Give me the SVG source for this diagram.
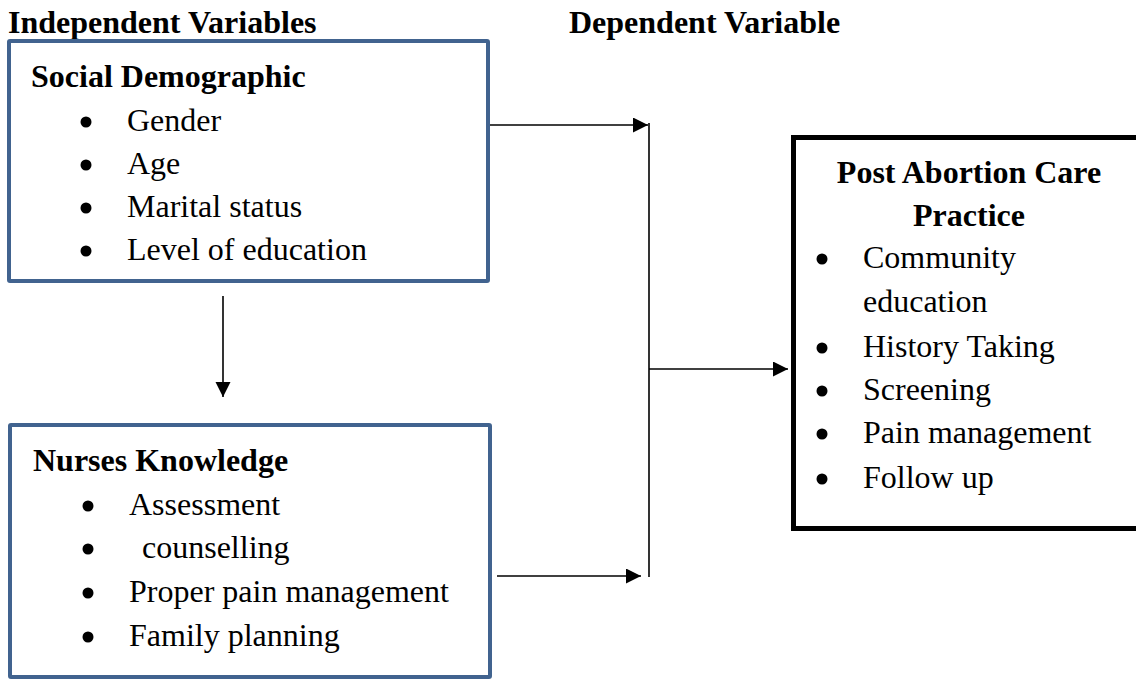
<svg xmlns="http://www.w3.org/2000/svg" width="1136" height="679" viewBox="0 0 1136 679">
<style>
text{font-family:"Liberation Serif","Times New Roman",serif;font-size:32px;fill:#000}
.b{font-weight:bold}
.blue{fill:#fff;stroke:#41638F;stroke-width:4}
.blk{fill:#fff;stroke:#000;stroke-width:5}
.ln{stroke:#000;stroke-width:1.6;fill:none}
.dot{fill:#000}
</style>
<defs>
<marker id="ah" markerUnits="userSpaceOnUse" markerWidth="16" markerHeight="16" refX="15" refY="7.5" orient="auto">
<path d="M0,0 L15,7.5 L0,15 z" fill="#000"/>
</marker>
</defs>
<rect width="1136" height="679" fill="#fff"/>
<g id="headers">
<text class="b" x="8" y="33">Independent Variables</text>
<text class="b" x="569" y="33">Dependent Variable</text>
</g>
<g id="social-demographic">
<rect class="blue" x="9" y="41" width="479" height="240" rx="1"/>
<text class="b" x="31" y="87">Social Demographic</text>
<circle class="dot" cx="86" cy="122" r="5.5"/><text x="127" y="131">Gender</text>
<circle class="dot" cx="86" cy="165" r="5.5"/><text x="127" y="174">Age</text>
<circle class="dot" cx="86" cy="208" r="5.5"/><text x="127" y="217">Marital status</text>
<circle class="dot" cx="86" cy="251" r="5.5"/><text x="127" y="260">Level of education</text>
</g>
<g id="nurses-knowledge">
<rect class="blue" x="10" y="425" width="480" height="252" rx="1"/>
<text class="b" x="33" y="471">Nurses Knowledge</text>
<circle class="dot" cx="88" cy="506" r="5.5"/><text x="129" y="515">Assessment</text>
<circle class="dot" cx="88" cy="549" r="5.5"/><text x="142" y="558">counselling</text>
<circle class="dot" cx="88" cy="593" r="5.5"/><text x="129" y="602">Proper pain management</text>
<circle class="dot" cx="88" cy="637" r="5.5"/><text x="129" y="646">Family planning</text>
</g>
<g id="post-abortion-care">
<rect class="blk" x="793.5" y="137.5" width="350" height="391"/>
<text class="b" x="969" y="183" text-anchor="middle">Post Abortion Care</text>
<text class="b" x="969" y="226" text-anchor="middle">Practice</text>
<circle class="dot" cx="822" cy="259" r="5.5"/><text x="863" y="268">Community</text>
<text x="863" y="312">education</text>
<circle class="dot" cx="822" cy="348" r="5.5"/><text x="863" y="357">History Taking</text>
<circle class="dot" cx="822" cy="391" r="5.5"/><text x="863" y="400">Screening</text>
<circle class="dot" cx="822" cy="434" r="5.5"/><text x="863" y="443">Pain management</text>
<circle class="dot" cx="822" cy="479" r="5.5"/><text x="863" y="488">Follow up</text>
</g>
<g id="connectors">
<line class="ln" x1="490" y1="125" x2="648" y2="125" marker-end="url(#ah)"/>
<line class="ln" x1="649" y1="123" x2="649" y2="577"/>
<line class="ln" x1="649" y1="369" x2="788" y2="369" marker-end="url(#ah)"/>
<line class="ln" x1="497" y1="576" x2="641" y2="576" marker-end="url(#ah)"/>
<line class="ln" x1="223" y1="296" x2="223" y2="397" marker-end="url(#ah)"/>
</g>
</svg>
